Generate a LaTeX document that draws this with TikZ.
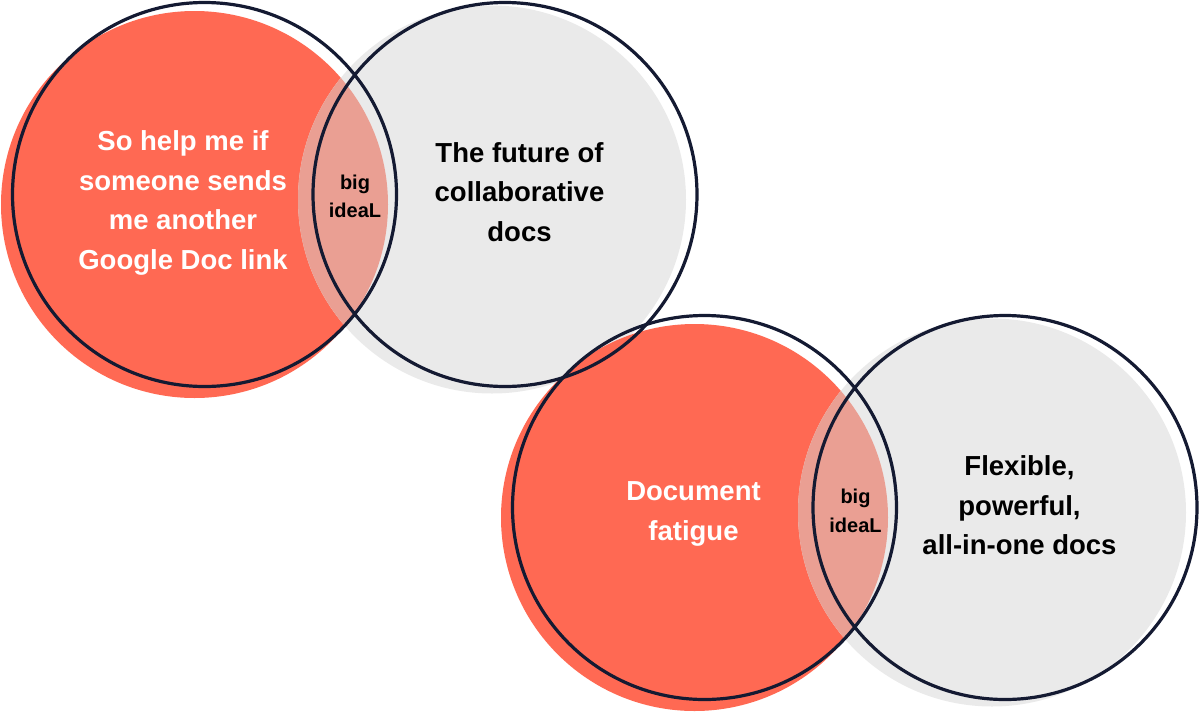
\documentclass[tikz,border=0pt]{standalone}
\usepackage{fontspec}
\setmainfont{Liberation Sans}
\usepackage{xcolor}
\usepackage{tikz}
\definecolor{coral}{RGB}{255,105,83}
\definecolor{lgray}{RGB}{234,234,234}
\definecolor{pinky}{RGB}{234,159,147}
\definecolor{navy}{RGB}{20,26,50}

\begin{document}
\begin{tikzpicture}[x=1pt, y=-1pt, ring/.style={draw=navy, line width=3.2pt}, txt/.style={font=\fontsize{27.5}{39.4}\selectfont\bfseries, align=center, inner sep=0pt}, lbl/.style={font=\fontsize{20}{28.5}\selectfont\bfseries, align=center, inner sep=0pt}]
\useasboundingbox (0,0) rectangle (1200,716);
\foreach \x/\y in {204.5/194.5, 704.5/507.5}{
  \fill[coral] (\x-10,\y+10) circle (193.5pt);
  \fill[lgray] (\x+287.5,\y+5) circle (194pt);
  \begin{scope}\clip (\x-10,\y+10) circle (193.5pt); \fill[pinky] (\x+287.5,\y+5) circle (194pt);\end{scope}
}
\foreach \x/\y in {204.5/194.5, 704.5/507.5}{\draw[ring] (\x,\y) circle (192pt) (\x+300.5,\y) circle (192pt);}
\node[txt, white] (rant) at (183,202.9) {So help me if\\someone sends\\me another\\Google Doc link};
\node[txt] (future) at (519.5,192) {The future of\\collaborative\\docs};
\node[txt, white] (fatigue) at (693.5,514) {Document\\fatigue};
\node[txt] (flex) at (1019.5,505.5) {Flexible,\\powerful,\\all-in-one docs};
\node[lbl] (idea1) at (355,196.2) {big\\ideaL};
\node[lbl] (idea2) at (855.5,510.7) {big\\ideaL};
\end{tikzpicture}
\end{document}
